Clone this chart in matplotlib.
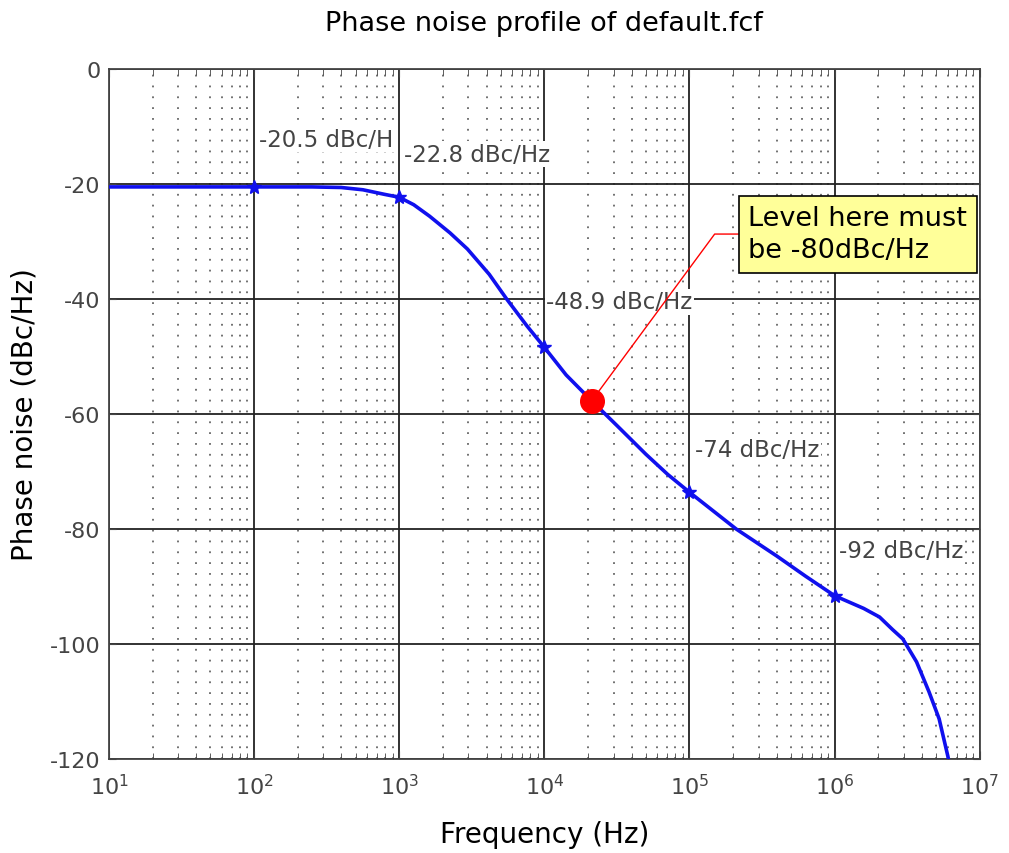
import matplotlib
matplotlib.use("Agg")
import matplotlib.pyplot as plt
from matplotlib.ticker import LogLocator, NullFormatter

plt.rcParams['axes.unicode_minus'] = False

# phase noise curve
freq_hz = [10, 100, 250, 398, 562, 794, 1000, 1259, 1620, 2239, 2950, 4170,
           5500, 7600, 10000, 14125, 21200, 31623, 50119, 70795, 100000,
           210000, 400000, 631000, 1000000, 1585000, 2040000, 2512000,
           2950000, 3670000, 4470000, 5250000, 6030000, 6300000]
noise_dbc = [-20.5, -20.5, -20.5, -20.6, -21.0, -21.8, -22.3, -23.6, -25.6,
             -28.5, -31.3, -35.7, -40.0, -44.7, -48.4, -53.2, -57.7, -62.0,
             -67.0, -70.5, -73.6, -80.0, -84.7, -88.2, -91.6, -93.8, -95.3,
             -97.5, -99.1, -103.1, -108.3, -113.0, -119.5, -122.0]

# marked decade points and their labels
mark_hz = [100, 1000, 10000, 100000, 1000000]
mark_db = [-20.5, -22.3, -48.4, -73.6, -91.6]
label_text = ["-20.5 dBc/H", "-22.8 dBc/Hz", "-48.9 dBc/Hz", "-74 dBc/Hz", "-92 dBc/Hz"]
label_hz = [108, 1080, 10300, 110000, 1070000]
label_db = [-12.2, -14.8, -40.5, -66.1, -83.8]

decades = [1e1, 1e2, 1e3, 1e4, 1e5, 1e6, 1e7]

target_hz = 21200
target_db = -57.7

fig = plt.figure(figsize=(10.09, 8.54), dpi=100)
ax = fig.add_axes([0.108, 0.110, 0.863, 0.808])

ax.semilogx(freq_hz, noise_dbc, color='#1010ee', lw=2.6, zorder=3)
ax.plot(mark_hz, mark_db, ls='none', marker='*', ms=10, color='#1010ee', zorder=4)

ax.set_xlim(10, 1e7)
ax.set_ylim(-120, 0)
ax.set_yticks([0, -20, -40, -60, -80, -100, -120])
ax.set_xticks(decades)
ax.xaxis.set_minor_locator(LogLocator(base=10, subs=range(2, 10), numticks=100))
ax.xaxis.set_minor_formatter(NullFormatter())

ax.grid(True, which='major', color='#222222', lw=1.3, ls='-')
ax.grid(True, which='minor', axis='x', color='#666666', lw=1.3, ls=(0, (1, 5)))
ax.set_axisbelow(True)

for s in ax.spines.values():
    s.set_color('#444444')
    s.set_linewidth(1.3)
ax.tick_params(axis='both', which='both', direction='in', colors='#444444',
               labelcolor='#444444', labelsize=16, top=True, right=True)
ax.tick_params(axis='x', which='major', length=6, pad=10)
ax.tick_params(axis='x', which='minor', length=4)
ax.tick_params(axis='y', length=5, pad=6)

for t, x, y in zip(label_text, label_hz, label_db):
    ax.text(x, y, t, fontsize=16.5, color='#444444', ha='left', va='center',
            bbox=dict(facecolor='white', edgecolor='none', pad=1), zorder=5)

# red target point with callout
ax.plot([target_hz], [target_db], 'o', color='red', ms=17, zorder=6)
ax.annotate("Level here must\nbe -80dBc/Hz", xy=(target_hz, target_db),
            xytext=(255000, -28.7), fontsize=19.5, color='black',
            ha='left', va='center', linespacing=1.3,
            bbox=dict(boxstyle='square,pad=0.35', facecolor='#ffff99', edgecolor='black', lw=1.2),
            arrowprops=dict(arrowstyle='-', color='red', lw=1,
                            connectionstyle='angle,angleA=0,angleB=53.6,rad=0',
                            shrinkA=0, shrinkB=0),
            zorder=7)

ax.set_title("Phase noise profile of default.fcf", fontsize=19.5, pad=28)
ax.set_xlabel("Frequency (Hz)", fontsize=20, labelpad=16)
ax.set_ylabel("Phase noise (dBc/Hz)", fontsize=20, labelpad=8)

fig.savefig("out.png", dpi=100)
